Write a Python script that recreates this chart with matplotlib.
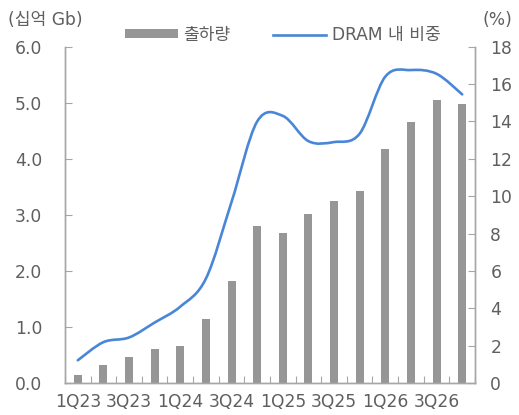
import matplotlib
matplotlib.use("Agg")
import matplotlib.pyplot as plt
from matplotlib.path import Path
from matplotlib.patches import PathPatch, Patch
from matplotlib.lines import Line2D
import numpy as np

plt.rcParams['font.family'] = ['DejaVu Sans', 'Noto Sans CJK KR']

quarters = ['1Q23', '2Q23', '3Q23', '4Q23', '1Q24', '2Q24', '3Q24', '4Q24',
            '1Q25', '2Q25', '3Q25', '4Q25', '1Q26', '2Q26', '3Q26', '4Q26']
shipments = [0.14, 0.32, 0.46, 0.61, 0.67, 1.14, 1.83, 2.81,
             2.68, 3.02, 3.25, 3.42, 4.18, 4.65, 5.05, 4.98]
dram_share = [1.23, 2.2, 2.45, 3.25, 4.1, 5.6, 9.7, 14.0,
              14.3, 12.95, 12.9, 13.35, 16.4, 16.75, 16.55, 15.45]
left_ticks = [0, 1, 2, 3, 4, 5, 6]
right_ticks = [0, 2, 4, 6, 8, 10, 12, 14, 16, 18]

text_color = '#5f5f5f'
axis_color = '#a6a6a6'
bar_color = '#969696'
line_color = '#4a86d8'
fs = 12.3

fig = plt.figure(figsize=(5.19, 4.15), dpi=100)
ax = fig.add_axes([0.1252, 0.0764, 0.79, 0.8111])
ax2 = ax.twinx()

x = np.arange(len(quarters))
ax.bar(x, shipments, width=0.31, color=bar_color, zorder=2)
ax.set_xlim(-0.5, len(quarters) - 0.5)
ax.set_ylim(0, 6)
ax.set_yticks(left_ticks)
ax.set_yticklabels([f'{v:.1f}' for v in left_ticks])

# Smoothed line: Catmull-Rom segments expressed as cubic Bezier curves
pts = np.column_stack([x, dram_share]).astype(float)
ext = np.vstack([pts[0], pts, pts[-1]])
verts = [tuple(pts[0])]
codes = [Path.MOVETO]
for i in range(len(pts) - 1):
    p0, p1, p2, p3 = ext[i], ext[i + 1], ext[i + 2], ext[i + 3]
    c1 = p1 + (p2 - p0) / 6.0
    c2 = p2 - (p3 - p1) / 6.0
    verts += [tuple(c1), tuple(c2), tuple(p2)]
    codes += [Path.CURVE4] * 3
ax2.add_patch(PathPatch(Path(verts, codes), facecolor='none', edgecolor=line_color,
                        lw=1.9, capstyle='round', zorder=3))
ax2.set_ylim(0, 18)
ax2.set_yticks(right_ticks)

# Category boundary ticks on the x axis, labels every other quarter
ax.set_xticks(np.arange(-0.5, len(quarters) + 0.5, 1.0))
ax.set_xticklabels([])
ax.set_xticks(x[::2], minor=True)
ax.set_xticklabels(quarters[::2], minor=True)
ax.tick_params(axis='x', which='major', direction='in', length=5, color=axis_color)
ax.tick_params(axis='x', which='minor', length=0, pad=7, labelsize=fs, labelcolor=text_color)
ax.tick_params(axis='y', direction='in', length=5, color=axis_color, pad=16.5,
               labelsize=fs, labelcolor=text_color)
ax2.tick_params(axis='y', direction='in', length=5, color=axis_color, pad=11,
                labelsize=fs, labelcolor=text_color)

for a in (ax, ax2):
    a.spines['top'].set_visible(False)
    for s in ('left', 'right', 'bottom'):
        a.spines[s].set_color(axis_color)
        a.spines[s].set_linewidth(1.0)

handles = [Patch(facecolor=bar_color, edgecolor='none'),
           Line2D([0], [0], color=line_color, lw=1.9)]
fig.legend(handles, ['출하량', 'DRAM 내 비중'], loc='center',
           bbox_to_anchor=(0.545, 0.916), ncol=2, frameon=False,
           fontsize=fs, labelcolor=text_color, handlelength=3.1,
           handleheight=0.45, handletextpad=0.3, columnspacing=2.5)

fig.text(0.015, 0.952, '(십억 Gb)', fontsize=fs, color=text_color, ha='left', va='center')
fig.text(0.987, 0.952, '(%)', fontsize=fs, color=text_color, ha='right', va='center')

fig.savefig('out.png', dpi=100)
